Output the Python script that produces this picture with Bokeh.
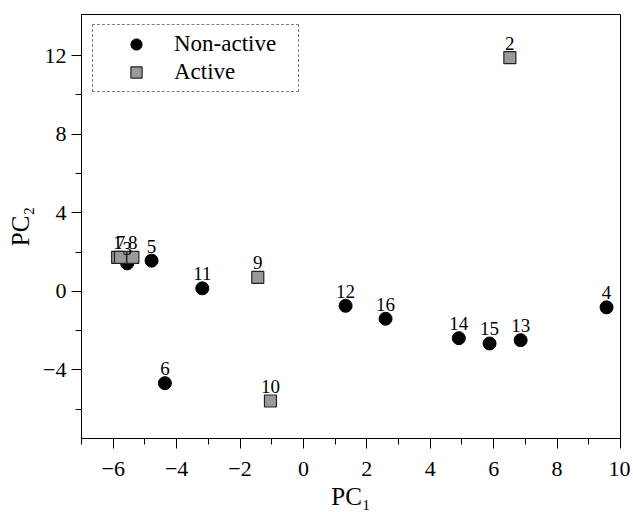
from bokeh.plotting import figure
from bokeh.models import ColumnDataSource, FixedTicker, Legend, LegendItem, Range1d, LabelSet
from bokeh.embed import file_html
from bokeh.resources import INLINE

# ---- data ----
nonactive_ids = ["3", "4", "5", "6", "11", "12", "13", "14", "15", "16"]
nonactive_pc1 = [-5.56, 9.56, -4.79, -4.37, -3.19, 1.33, 6.85, 4.90, 5.87, 2.59]
nonactive_pc2 = [1.42, -0.82, 1.56, -4.68, 0.15, -0.74, -2.49, -2.39, -2.66, -1.40]

active_ids = ["1", "2", "7", "8", "9", "10"]
active_pc1 = [-5.86, 6.51, -5.77, -5.38, -1.44, -1.04]
active_pc2 = [1.73, 11.90, 1.73, 1.73, 0.71, -5.59]

x_major = [-6, -4, -2, 0, 2, 4, 6, 8, 10]
x_minor = [-7, -5, -3, -1, 1, 3, 5, 7, 9]
x_labels = ["\u22126", "\u22124", "\u22122", "0", "2", "4", "6", "8", "10"]
y_major = [-4, 0, 4, 8, 12]
y_minor = [-6, -2, 2, 6, 10]
y_labels = ["\u22124", "0", "4", "8", "12"]

FONT = "Liberation Serif"

p = figure(width=630, height=512, output_backend="svg", toolbar_location=None,
           x_range=Range1d(-7, 10), y_range=Range1d(-7.5, 14.1),
           min_border_left=81, min_border_right=10, min_border_top=14,
           min_border_bottom=74)
p.grid.visible = False
p.outline_line_color = "black"
p.outline_line_width = 1

src_n = ColumnDataSource(dict(x=nonactive_pc1, y=nonactive_pc2, t=nonactive_ids))
src_a = ColumnDataSource(dict(x=active_pc1, y=active_pc2, t=active_ids))

r_n = p.scatter("x", "y", source=src_n, marker="circle", size=13,
                fill_color="black", line_color="black")
r_a = p.scatter("x", "y", source=src_a, marker="square", size=12,
                fill_color="#9a9a9a", line_color="#222222", line_width=1.2)

for s in (src_n, src_a):
    labels = LabelSet(x="x", y="y", text="t", source=s, text_font=FONT,
                      text_font_size="19px", text_align="center",
                      text_baseline="alphabetic", y_offset=8, text_color="black")
    p.add_layout(labels)

for ax, maj, mnr, labs in ((p.xaxis[0], x_major, x_minor, x_labels),
                           (p.yaxis[0], y_major, y_minor, y_labels)):
    ax.ticker = FixedTicker(ticks=maj, minor_ticks=mnr)
    ax.major_label_overrides = {v: l for v, l in zip(maj, labs)}
    ax.major_tick_out = 10
    ax.major_tick_in = 0
    ax.minor_tick_out = 6
    ax.minor_tick_in = 0
    ax.axis_line_color = "black"
    ax.major_tick_line_color = "black"
    ax.minor_tick_line_color = "black"
    ax.major_label_text_font = FONT
    ax.major_label_text_font_size = "22px"
    ax.major_label_text_color = "black"
    ax.major_label_standoff = 5
    ax.axis_label_text_font = FONT
    ax.axis_label_text_font_size = "25px"
    ax.axis_label_text_font_style = "normal"
    ax.axis_label_text_color = "black"
    ax.axis_label_standoff = 6

p.xaxis[0].major_label_standoff = 13
p.xaxis[0].axis_label_standoff = 4
p.xaxis[0].axis_label = "PC\u2081"
p.yaxis[0].axis_label = "PC\u2082"

legend = Legend(items=[LegendItem(label="Non-active", renderers=[r_n]),
                       LegendItem(label="Active", renderers=[r_a])],
                location=(11, 346))
legend.border_line_color = "black"
legend.border_line_dash = "2 1"
legend.border_line_width = 1
legend.background_fill_alpha = 1
legend.padding = 5
legend.spacing = 0
legend.glyph_height = 28
legend.glyph_width = 76
legend.label_standoff = 0
legend.label_width = 119
legend.label_height = 20
legend.label_text_font = FONT
legend.label_text_font_size = "23px"
legend.label_text_color = "black"
legend.label_text_baseline = "middle"
p.add_layout(legend, "center")

open("out.html", "w").write(file_html(p, INLINE))
